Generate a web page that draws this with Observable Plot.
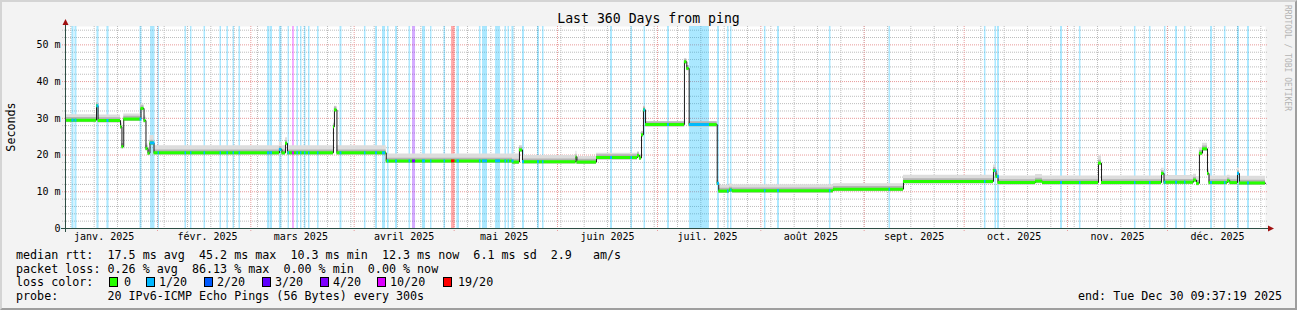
<!DOCTYPE html>
<html><head><meta charset="utf-8">
<script src="https://cdn.jsdelivr.net/npm/d3@7"></script>
<script src="https://cdn.jsdelivr.net/npm/@observablehq/plot@0.6"></script>
<style>
body{margin:0;background:#f3f3f3;}
#wrap{position:relative;width:1297px;height:310px;background:#f3f3f3;overflow:hidden;font-family:"DejaVu Sans Mono",monospace;color:#000;}
#wrap svg{position:absolute;left:0;top:0;overflow:visible;}
#frame{position:absolute;left:0;top:0;width:1297px;height:310px;box-sizing:border-box;border-style:solid;border-width:2px;border-color:#d4d4d4 #9e9e9e #9e9e9e #d4d4d4;pointer-events:none;}
.t{position:absolute;white-space:pre;line-height:14px;font-size:11.7px;}
.box{position:absolute;width:7px;height:8px;border:1px solid #000;}
#title{position:absolute;left:0;width:1297px;top:11px;text-align:center;font-size:13.2px;line-height:16px;white-space:pre;}
#ylab{position:absolute;left:-14px;top:120px;width:50px;text-align:center;font-size:11.7px;line-height:14px;transform:rotate(-90deg);}
#wm{position:absolute;left:1282px;top:5px;font-size:8px;color:#b4b4b4;writing-mode:vertical-rl;line-height:10px;white-space:pre;}
</style></head>
<body><div id="wrap"></div>
<script>
// ---------- data ----------
const medianTimes = ["2025-01-04T09:37","2025-01-13T17:00","2025-01-14T04:00","2025-01-20T22:00","2025-01-21T08:00","2025-01-21T21:00","2025-01-27T01:00","2025-01-27T23:00","2025-01-28T13:00","2025-01-29T04:00","2025-01-29T18:00","2025-01-30T23:00","2025-03-09T14:00","2025-03-10T08:00","2025-03-11T10:00","2025-03-12T00:00","2025-03-25T19:00","2025-03-26T02:00","2025-03-26T20:00","2025-04-10T15:00","2025-05-18T12:00","2025-05-20T14:00","2025-05-21T12:00","2025-06-06T13:00","2025-06-06T20:00","2025-06-12T17:00","2025-06-25T00:00","2025-06-25T14:00","2025-06-26T05:00","2025-06-26T19:00","2025-06-27T10:00","2025-07-09T02:00","2025-07-09T19:00","2025-07-10T12:00","2025-07-18T22:00","2025-07-19T09:00","2025-07-22T14:00","2025-07-23T12:00","2025-08-22T19:00","2025-09-12T19:00","2025-10-09T19:00","2025-10-10T13:00","2025-10-11T04:00","2025-10-22T10:00","2025-10-24T12:00","2025-11-10T07:00","2025-11-11T05:00","2025-11-29T05:00","2025-11-29T23:00","2025-12-08T19:00","2025-12-09T17:00","2025-12-10T14:00","2025-12-11T12:00","2025-12-13T00:00","2025-12-13T11:00","2025-12-19T00:00","2025-12-19T18:00","2025-12-22T00:00","2025-12-22T14:00","2025-12-30T09:37"];
const medianValues = [29.5,33.4,29.4,27.7,22.3,29.8,32.7,29.4,21.8,20.5,23.3,20.6,21.5,20.6,23.2,20.6,27.7,32.3,20.6,18.4,18.1,21.4,18.2,19.5,18.1,19.3,19.9,19.2,25.5,32.3,28.3,45.4,43.6,28.3,12.3,10.2,10.5,10.3,10.7,12.8,15.8,14.2,12.5,12.9,12.5,17.8,12.5,15.0,12.6,13.2,12.3,20.5,21.7,15.0,12.5,13.0,12.5,15.0,12.4,12.3];
const smokeSpread = [1.5,1.0,1.5,1.0,0.8,1.4,1.2,1.2,1.2,1.0,2.0,1.9,2.0,1.9,1.5,1.9,1.0,1.0,1.9,1.9,2.2,1.2,1.7,1.5,1.5,1.2,1.0,1.0,1.0,1.0,0.6,0.6,0.6,0.6,1.0,1.6,1.6,1.6,1.5,1.7,1.5,1.5,1.8,1.8,1.8,2.0,1.8,1.4,1.8,1.6,1.8,1.5,1.5,1.5,1.8,1.5,1.8,1.5,1.8,1.8];

const lossStart = ["01-06T08","01-07T06","01-13T20","01-16T20","01-26T18","01-29T22","02-01T04","02-09T06","02-10T22","02-14T23","02-19T18","02-21T20","02-23T16","02-25T11","03-06T00","03-06T22","03-09T14","03-12T04","03-13T12","03-14T20","03-15T22","03-17T02","03-18T07","03-21T00","03-27T18","04-04T02","04-07T10","04-09T12","04-11T00","04-13T10","04-17T11","04-18T12","04-21T12","04-23T22","04-27T23","04-30T05","05-01T20","05-08T14","05-09T12","05-13T10","05-16T06","05-17T04","05-18T08","05-21T12","05-26T00","05-27T12","06-16T22","06-23T01","06-26T23","07-04T00","07-10T14","07-19T00","07-22T00","07-22T22","08-02T02","08-06T00","08-21T14","09-08T11","10-07T02","10-10T06","10-11T00","10-29T22","11-04T14","11-21T02","11-25T14","11-30T02","12-03T10","12-06T02","12-13T22","12-18T02","12-22T00","12-25T00"];
const lossEnd = ["01-06T23","01-07T20","01-14T11","01-17T11","01-27T08","01-31T06","02-01T14","02-09T17","02-11T08","02-15T10","02-20T05","02-22T07","02-24T02","02-25T22","03-06T18","03-07T12","03-10T08","03-12T14","03-14T02","03-15T07","03-16T08","03-17T13","03-18T18","03-21T11","03-28T08","04-04T13","04-08T00","04-10T10","04-11T11","04-14T00","04-17T22","04-19T10","04-22T10","04-24T08","04-28T10","05-01T06","05-02T14","05-09T01","05-11T00","05-14T22","05-16T17","05-17T14","05-18T23","05-22T02","05-26T14","05-27T23","06-17T12","06-23T12","06-27T10","07-04T14","07-16T14","07-19T14","07-22T11","07-23T08","08-02T13","08-06T14","08-22T01","09-08T22","10-07T13","10-10T17","10-11T14","10-30T12","11-05T01","11-21T13","11-26T01","11-30T13","12-04T00","12-06T13","12-14T12","12-18T13","12-22T14","12-25T14"];
const lossLevel = lossStart.map((s, i) => i === 18 ? "10/20" : i === 31 ? "4/20" : i === 35 ? "19/20" : "1/20");

const lossNames = ["0","1/20","2/20","3/20","4/20","10/20","19/20"];
const lossHex = ["#26ff00","#00b8ff","#0059ff","#5e00ff","#7e00ff","#dd00ff","#ff0000"];

const yTicks = [0,10,20,30,40,50];
const yTickLabels = ["0","10 m","20 m","30 m","40 m","50 m"];
const xTickDates = ["2025-01-16","2025-02-16","2025-03-16","2025-04-16","2025-05-16","2025-06-16","2025-07-16","2025-08-16","2025-09-16","2025-10-16","2025-11-16","2025-12-16"];
const xTickLabels = ["janv. 2025","févr. 2025","mars 2025","avril 2025","mai 2025","juin 2025","juil. 2025","août 2025","sept. 2025","oct. 2025","nov. 2025","déc. 2025"];

const statLines = [
  "median rtt:  17.5 ms avg  45.2 ms max  10.3 ms min  12.3 ms now  6.1 ms sd  2.9   am/s",
  "packet loss: 0.26 % avg  86.13 % max  0.00 % min  0.00 % now",
  "loss color:",
  "probe:       20 IPv6-ICMP Echo Pings (56 Bytes) every 300s"
];
const endText = "end: Tue Dec 30 09:37:19 2025";
const titleText = "Last 360 Days from ping";

// ---------- build ----------
const lossColor = Object.fromEntries(lossNames.map((n, i) => [n, lossHex[i]]));
const start = new Date("2025-01-04T09:37:19"), end = new Date("2025-12-30T09:37:19");
const med = medianTimes.map((t, i) => ({t: new Date(t), v: medianValues[i], s: smokeSpread[i]}));
const segs = med.slice(0, -1).map((d, i) => ({x1: d.t, x2: med[i + 1].t, v: d.v}));
const bis = d3.bisector(d => d.t).right;
const medAt = t => med[Math.max(0, bis(med, t) - 1)].v;
const stripes = lossStart.map((s, i) => {
  const x1 = new Date(`2025-${s}:00`), x2 = new Date(`2025-${lossEnd[i]}:00`);
  return {x1, x2, v: medAt(x1), c: lossColor[lossLevel[i]]};
});
const tickDates = xTickDates.map(d => new Date(d + "T00:00"));
const weeks = d3.timeMonday.range(start, end);
const months = d3.timeMonth.range(start, end);
const minorY = d3.range(2, 56, 2).filter(v => v % 10 !== 0);
const majorY = [10,20,30,40,50];

const font = "DejaVu Sans Mono";
const chart = Plot.plot({
  width: 1297, height: 248,
  marginLeft: 65, marginRight: 32, marginTop: 26, marginBottom: 20,
  x: {type: "time", domain: [start, end]},
  y: {domain: [0, 55]},
  color: {type: "identity"},
  style: {background: "transparent", fontFamily: font, fontSize: "10px", color: "#000", overflow: "visible"},
  marks: [
    Plot.frame({fill: "#ffffff", stroke: null}),
    Plot.ruleY(minorY, {stroke: "#bdbdbd", strokeDasharray: "1,1", insetLeft: -3, insetRight: -3}),
    Plot.ruleX(weeks, {stroke: "#bdbdbd", strokeDasharray: "1,1"}),
    Plot.ruleY(majorY, {stroke: "#e89a9a", strokeDasharray: "1,1", insetLeft: -3, insetRight: -3}),
    Plot.ruleX(months, {stroke: "#e89a9a", strokeDasharray: "1,1", insetBottom: -3}),
    Plot.rectX(stripes, {x1: "x1", x2: "x2", fill: "c", fillOpacity: 0.33}),
    Plot.areaY(med, {x: "t", y1: d => d.v - 0.7, y2: d => d.v + d.s, curve: "step-after", fill: "#dddddd"}),
    Plot.areaY(med, {x: "t", y1: d => d.v - 0.6, y2: d => d.v + 0.75, curve: "step-after", fill: "#b4b4b4"}),
    Plot.line(med, {x: "t", y: "v", curve: "step-after", stroke: "#1c1c1c", strokeWidth: 1}),
    Plot.ruleY(segs, {x1: "x1", x2: "x2", y: "v", stroke: lossHex[0], strokeWidth: 3}),
    Plot.ruleY(stripes, {x1: "x1", x2: "x2", y: "v", stroke: "c", strokeWidth: 3}),
    Plot.axisY({ticks: yTicks, tickFormat: d => yTickLabels[yTicks.indexOf(d)], tickSize: 0, tickPadding: 5, fontSize: 10, label: null}),
    Plot.axisX({ticks: tickDates, tickFormat: d => xTickLabels[tickDates.findIndex(t => +t === +d)], tickSize: 0, tickPadding: 4, fontSize: 10, label: null}),
    Plot.ruleY([0], {stroke: "#2c4d43", insetLeft: -4, insetRight: -3}),
    Plot.ruleX([start], {stroke: "#2c4d43", insetTop: -4, insetBottom: -4})
  ]
});

const wrap = document.getElementById("wrap");
wrap.appendChild(chart);
// arrows at axis ends
const xs = chart.scale("x"), ys = chart.scale("y");
const x0 = xs.apply(start) + 0.5, y0 = ys.apply(0) + 0.5, xe = xs.apply(end), yt = ys.apply(55);
const svg = d3.select(chart);
svg.append("path").attr("d", `M${x0 - 3},${yt - 1}L${x0 + 3},${yt - 1}L${x0},${yt - 7}Z`).attr("fill", "#a01010");
svg.append("path").attr("d", `M${xe + 3},${y0 - 3}L${xe + 3},${y0 + 3}L${xe + 9},${y0}Z`).attr("fill", "#a01010");

function addDiv(cls, text, style) {
  const d = document.createElement("div");
  if (cls) d.className = cls;
  d.textContent = text;
  Object.assign(d.style, style || {});
  wrap.appendChild(d);
  return d;
}
const t = addDiv(null, titleText); t.id = "title";
const yl = addDiv(null, "Seconds"); yl.id = "ylab";
const wm = addDiv(null, "RRDTOOL / TOBI OETIKER"); wm.id = "wm";
const lineTops = [248, 261.5, 275, 289];
statLines.forEach((s, i) => addDiv("t", s, {left: "16px", top: lineTops[i] + "px"}));
addDiv("t", endText, {left: "1078px", top: lineTops[3] + "px"});
const boxX = [109,146,204,262,320,377,443];
const labX = [124,159,217,275,333,390,458];
lossNames.forEach((n, i) => {
  addDiv("box", "", {left: boxX[i] + "px", top: "277px", background: lossHex[i]});
  addDiv("t", n, {left: labX[i] + "px", top: lineTops[2] + "px"});
});
const fr = document.createElement("div"); fr.id = "frame"; wrap.appendChild(fr);
</script>
</body></html>
